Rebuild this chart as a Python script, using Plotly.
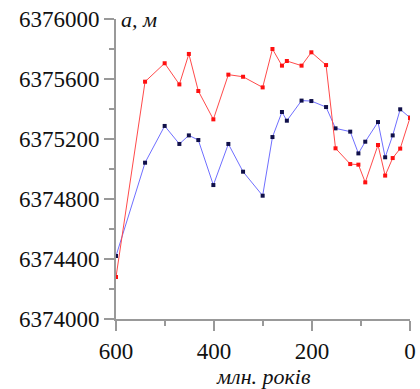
import plotly.graph_objects as go

ages = [600, 540.7, 500.7, 470.7, 451.3, 432, 401.3, 370.7, 340.7, 300.7, 280.7, 261.3,
        251.3, 221.3, 201.3, 171.3, 152, 122, 105.3, 91.3, 65.3, 50.7, 35.3, 20, 0]
red_a = [6374280, 6375582, 6375705, 6375564, 6375767, 6375520, 6375331, 6375629, 6375615,
         6375544, 6375800, 6375689, 6375720, 6375689, 6375778, 6375693, 6375138, 6375033,
         6375029, 6374911, 6375160, 6374956, 6375073, 6375136, 6375342]
blue_a = [6374420, 6375042, 6375287, 6375167, 6375224, 6375193, 6374893, 6375167, 6374982,
          6374822, 6375213, 6375380, 6375322, 6375456, 6375453, 6375413, 6375271, 6375249,
          6375104, 6375182, 6375313, 6375078, 6375224, 6375398, 6375342]
x_ticks = [600, 400, 200, 0]
y_ticks = [6374000, 6374400, 6374800, 6375200, 6375600, 6376000]

fig = go.Figure()
fig.add_trace(go.Scatter(x=ages, y=blue_a, mode="lines+markers",
                         line=dict(color="#6f6fff", width=1),
                         marker=dict(color="#10104a", size=4, symbol="square")))
fig.add_trace(go.Scatter(x=ages, y=red_a, mode="lines+markers",
                         line=dict(color="#ff4a4a", width=1),
                         marker=dict(color="#ff1010", size=4, symbol="square")))

axis_font = dict(family="Liberation Serif", size=23, color="#111")
fig.update_layout(
    width=420, height=389, showlegend=False,
    margin=dict(l=116, r=4, t=19, b=70),
    paper_bgcolor="white", plot_bgcolor="white",
    xaxis=dict(range=[600, 0], tickvals=x_ticks, ticks="outside", ticklen=10,
               tickcolor="#999", tickwidth=2, showline=True, linecolor="#999", linewidth=2,
               showgrid=False, zeroline=False, tickfont=axis_font, ticklabeloverflow="allow",
               minor=dict(dtick=100, ticks="outside", ticklen=5, tickcolor="#999", tickwidth=2)),
    yaxis=dict(range=[6374000, 6376000], tickvals=y_ticks, tickformat="d", ticks="outside",
               ticklen=10, tickcolor="#999", tickwidth=2, showline=True, linecolor="#999",
               linewidth=2, showgrid=False, zeroline=False, tickfont=axis_font,
               ticklabeloverflow="allow",
               minor=dict(dtick=200, ticks="outside", ticklen=5, tickcolor="#999", tickwidth=2)),
)
fig.add_annotation(text="<i>a, м</i>", xref="paper", yref="paper", x=0.01, y=1.0,
                   xanchor="left", yanchor="middle", showarrow=False,
                   font=dict(family="Liberation Serif", size=22, color="#111"))
fig.add_annotation(text="<i>млн. років</i>", xref="paper", yref="paper", x=0.5, y=-0.19,
                   xanchor="center", yanchor="middle", showarrow=False,
                   font=dict(family="Liberation Serif", size=22, color="#111"))
fig.write_html("out.html")
